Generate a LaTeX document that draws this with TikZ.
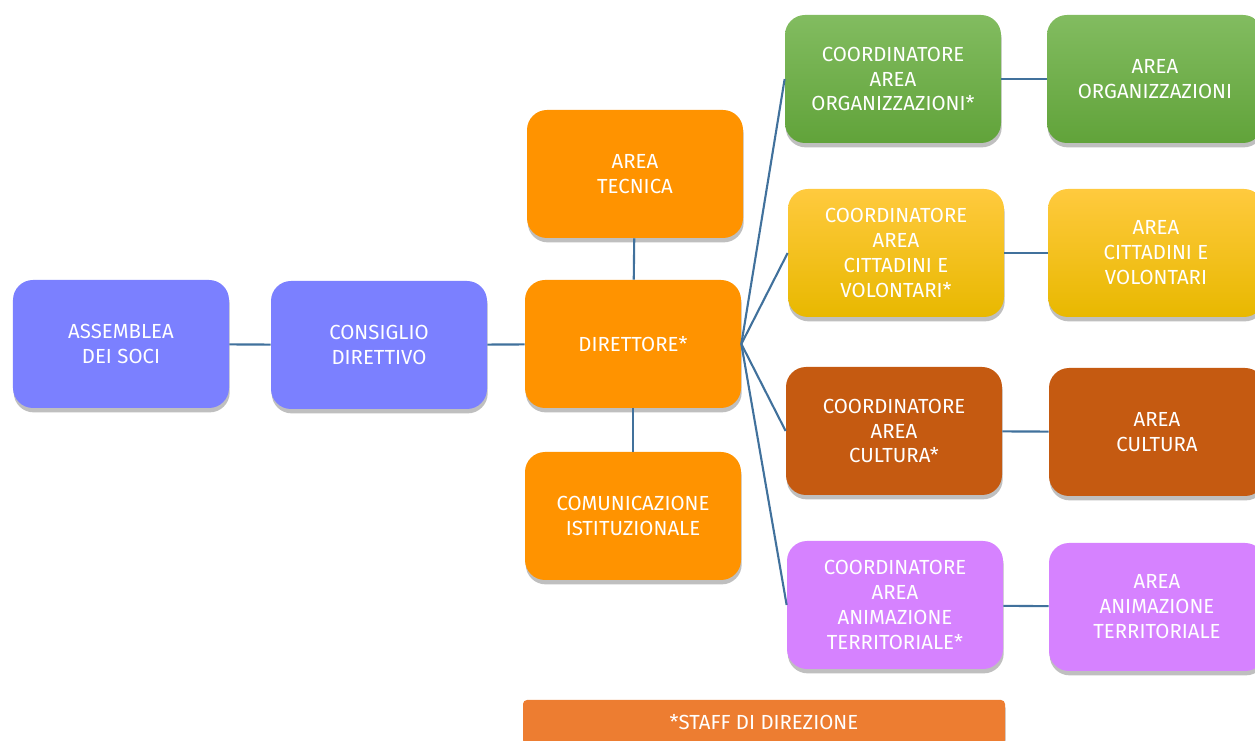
\documentclass[tikz,border=0pt]{standalone}
\usepackage{fontspec}
\setmainfont{Fira Sans}
\usetikzlibrary{shadows}
\definecolor{viola}{HTML}{7B80FF}
\definecolor{arancio}{HTML}{FF9300}
\definecolor{verdesu}{HTML}{82BC60}
\definecolor{verdegiu}{HTML}{61A33A}
\definecolor{giallosu}{HTML}{FFCA3E}
\definecolor{giallomezzo}{HTML}{FFC600}
\definecolor{giallogiu}{HTML}{E8B800}
\definecolor{marrone}{HTML}{C55A11}
\definecolor{lilla}{HTML}{D682FF}
\definecolor{staff}{HTML}{ED7D31}
\definecolor{linea}{HTML}{41719C}
\begin{document}
\begin{tikzpicture}[
	box/.style={rounded corners=0.4cm, minimum width=4.32cm, minimum height=2.56cm, align=center, text=white,
		font=\fontsize{11.6}{14.2}\selectfont,
		drop shadow={shadow xshift=0.4pt, shadow yshift=-2.5pt, opacity=0.25, fill=black}},
	verde/.style={top color=verdesu, bottom color=verdegiu},
	giallo/.style={top color=giallosu, middle color=giallomezzo, bottom color=giallogiu},
	link/.style={draw=linea, line width=1.2pt}]
	\useasboundingbox (0,0) rectangle (25.1,14.8);
	\node[box, fill=viola] (assemblea) at (2.42, 7.92) {ASSEMBLEA\\DEI SOCI};
	\node[box, fill=viola] (consiglio) at (7.58, 7.90) {CONSIGLIO\\DIRETTIVO};
	\node[box, fill=arancio] (tecnica) at (12.70, 11.32) {AREA\\TECNICA};
	\node[box, fill=arancio] (direttore) at (12.66, 7.92) {DIRETTORE*};
	\node[box, fill=arancio] (comunicazione) at (12.66, 4.48) {COMUNICAZIONE\\ISTITUZIONALE};
	\node[box, verde] (coordorg) at (17.86, 13.22) {COORDINATORE\\AREA\\ORGANIZZAZIONI*};
	\node[box, verde] (areaorg) at (23.10, 13.22) {AREA\\ORGANIZZAZIONI};
	\node[box, giallo] (coordcitt) at (17.92, 9.74) {COORDINATORE\\AREA\\CITTADINI E\\VOLONTARI*};
	\node[box, giallo] (areacitt) at (23.12, 9.74) {AREA\\CITTADINI E\\VOLONTARI};
	\node[box, fill=marrone] (coordcult) at (17.88, 6.18) {COORDINATORE\\AREA\\CULTURA*};
	\node[box, fill=marrone] (areacult) at (23.14, 6.16) {AREA\\CULTURA};
	\node[box, fill=lilla] (coordanim) at (17.90, 2.70) {COORDINATORE\\AREA\\ANIMAZIONE\\TERRITORIALE*};
	\node[box, fill=lilla] (areaanim) at (23.14, 2.66) {AREA\\ANIMAZIONE\\TERRITORIALE};
	\node[box, fill=staff, rounded corners=0.08cm, minimum width=9.64cm, minimum height=0.88cm] (staffdir) at (15.28, 0.36) {*STAFF DI DIREZIONE};
	\draw[link] (assemblea) -- (consiglio);
	\draw[link] (consiglio) -- (direttore);
	\draw[link] (tecnica) -- (direttore);
	\draw[link] (direttore) -- (comunicazione);
	\draw[link] (direttore.east) -- (coordorg.west);
	\draw[link] (direttore.east) -- (coordcitt.west);
	\draw[link] (direttore.east) -- (coordcult.west);
	\draw[link] (direttore.east) -- (coordanim.west);
	\draw[link] (coordorg) -- (areaorg);
	\draw[link] (coordcitt) -- (areacitt);
	\draw[link] (coordcult) -- (areacult);
	\draw[link] (coordanim) -- (areaanim);
\end{tikzpicture}
\end{document}
